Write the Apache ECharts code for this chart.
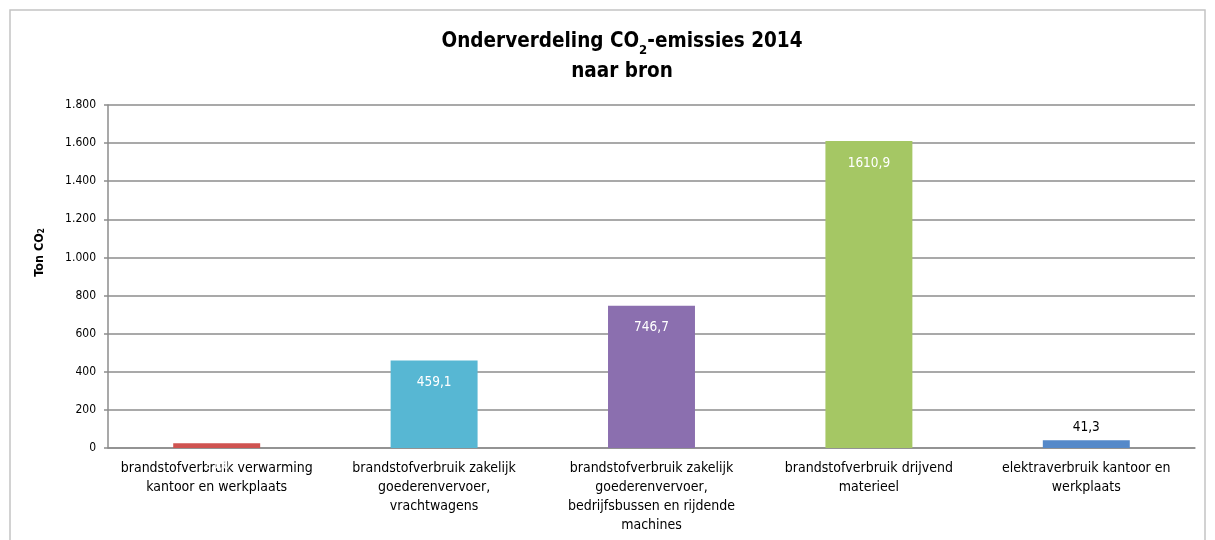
<!DOCTYPE html>
<html><head><meta charset="utf-8">
<script src="https://cdn.jsdelivr.net/npm/echarts@6/dist/echarts.min.js"></script>
<style>html,body{margin:0;padding:0;background:#fff}#c{width:1215px;height:540px}</style>
</head><body><div id="c"></div>
<script>
const categories = [
  "brandstofverbruik verwarming\nkantoor en werkplaats",
  "brandstofverbruik zakelijk\ngoederenvervoer,\nvrachtwagens",
  "brandstofverbruik zakelijk\ngoederenvervoer,\nbedrijfsbussen en rijdende\nmachines",
  "brandstofverbruik drijvend\nmaterieel",
  "elektraverbruik kantoor en\nwerkplaats"
];
const values = [25.0, 459.1, 746.7, 1610.9, 41.3];
const colors = ["#CF5350", "#57B7D3", "#8B6FAF", "#A5C764", "#5589C9"];
const labelColors = ["#ffffff", "#ffffff", "#ffffff", "#ffffff", "#000000"];
const labelPositions = ["insideTop", "insideTop", "insideTop", "insideTop", "top"];
const yTicks = [0, 200, 400, 600, 800, 1000, 1200, 1400, 1600, 1800];

const FONT = '"Liberation Sans Narrow", "DejaVu Sans Condensed", "Liberation Sans", sans-serif';
const fmtNum = v => v.toFixed(1).replace('.', ',');
const fmtTick = v => String(v).replace(/\B(?=(\d{3})+(?!\d))/g, '.');

const chart = echarts.init(document.getElementById('c'), null, {renderer: 'canvas'});
chart.setOption({
  animation: false,
  backgroundColor: '#fff',
  graphic: [{
    type: 'polyline',
    shape: {points: [[10, 545], [10, 10], [1205, 10], [1205, 545]]},
    style: {stroke: '#c4c4c4', lineWidth: 1.5, fill: null}
  }],
  title: {
    text: '{b|Onderverdeling CO}{s|2}{b|-emissies 2014}\n{b|naar bron}',
    left: 617, top: 22, textAlign: 'center',
    textStyle: {
      lineHeight: 30,
      rich: {
        b: {fontFamily: FONT, fontWeight: 'bold', fontSize: 20.5, color: '#000', lineHeight: 30},
        s: {fontFamily: FONT, fontWeight: 'bold', fontSize: 13, color: '#000', verticalAlign: 'bottom', padding: [8, 0, 0, 0], lineHeight: 30}
      }
    }
  },
  grid: {left: 108, right: 20, top: 105, bottom: 92, containLabel: false},
  xAxis: {
    type: 'category',
    data: categories,
    axisLine: {lineStyle: {color: '#8c8c8c', width: 1.5}},
    axisTick: {show: false},
    axisLabel: {fontFamily: FONT, fontSize: 14, color: '#000', lineHeight: 19, margin: 11, interval: 0}
  },
  yAxis: {
    type: 'value',
    min: 0, max: 1800, interval: 200,
    name: '{b|Ton CO}{s|2}',
    nameLocation: 'middle',
    nameGap: 62,
    nameRotate: 90,
    nameTextStyle: {
      padding: [0, 0, 0, 48],
      rich: {
        b: {fontFamily: FONT, fontWeight: 'bold', fontSize: 12.5, color: '#000'},
        s: {fontFamily: FONT, fontWeight: 'bold', fontSize: 8, color: '#000', verticalAlign: 'bottom', padding: [5, 0, 0, 0]}
      }
    },
    axisLine: {show: true, lineStyle: {color: '#8c8c8c', width: 1.5}},
    axisTick: {show: true, length: 4, lineStyle: {color: '#8c8c8c', width: 1.5}},
    splitLine: {lineStyle: {color: '#8c8c8c', width: 1.5}},
    axisLabel: {
      fontFamily: FONT, fontSize: 12, color: '#000', margin: 12,
      formatter: v => yTicks.includes(v) ? fmtTick(v) : ''
    }
  },
  series: [{
    type: 'bar',
    barWidth: '40%',
    data: values.map((v, i) => ({
      value: v,
      itemStyle: {color: colors[i]},
      label: {
        show: true,
        position: labelPositions[i],
        distance: labelPositions[i] === 'top' ? 6 : 15,
        color: labelColors[i],
        fontFamily: FONT, fontSize: 13.5,
        formatter: p => fmtNum(p.value)
      }
    }))
  }]
});
</script></body></html>
